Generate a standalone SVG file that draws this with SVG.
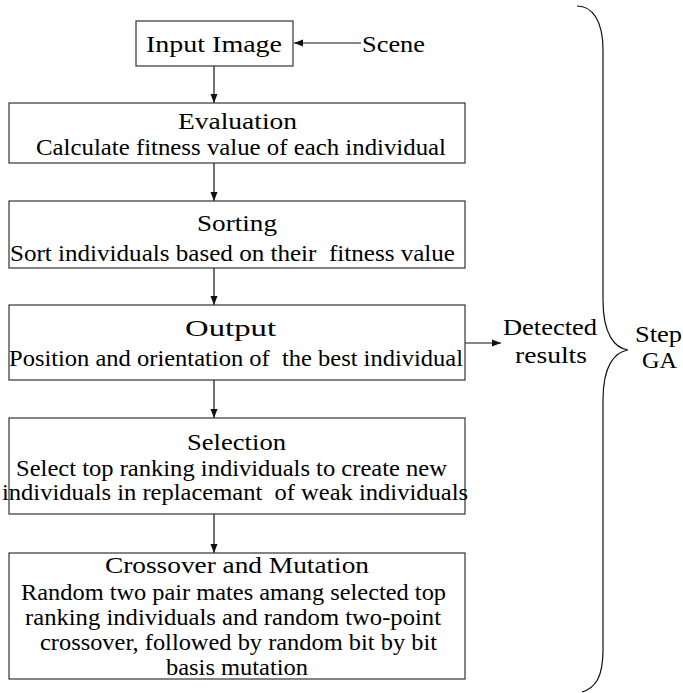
<svg xmlns="http://www.w3.org/2000/svg" width="683" height="693" viewBox="0 0 683 693">
<style>
.box{fill:#fff;stroke:#333;stroke-width:1.2}
.t{font-family:"Liberation Serif","DejaVu Serif",serif;font-size:23.5px;fill:#000;white-space:pre}
.c{stroke:#111;stroke-width:1.2;fill:none}
</style>
<defs>
<marker id="ah" markerWidth="10" markerHeight="8" refX="9" refY="4" orient="auto" markerUnits="userSpaceOnUse">
<path d="M0,0.5 L9,4 L0,7.5 Z" fill="#111"/>
</marker>
</defs>
<g id="connectors">
<line class="c" x1="361" y1="43" x2="294" y2="43" marker-end="url(#ah)"/>
<line class="c" x1="214" y1="66" x2="214" y2="103" marker-end="url(#ah)"/>
<line class="c" x1="214" y1="163" x2="214" y2="201" marker-end="url(#ah)"/>
<line class="c" x1="214" y1="268" x2="214" y2="305" marker-end="url(#ah)"/>
<line class="c" x1="214" y1="380" x2="214" y2="418" marker-end="url(#ah)"/>
<line class="c" x1="214" y1="514" x2="214" y2="553" marker-end="url(#ah)"/>
<line class="c" x1="465" y1="343" x2="501" y2="343" marker-end="url(#ah)"/>
<path id="brace" class="c" d="M577,6 C592,6 603,20 603,50 L603,300 C603,335 615,348 628,350 C615,352 603,365 603,400 L603,650 C603,678 595,688 582,692"/>
</g>
<g id="input-image">
<rect class="box" x="136" y="21" width="157" height="45"/>
<text class="t" x="146" y="52" textLength="136" lengthAdjust="spacingAndGlyphs">Input Image</text>
</g>
<g id="scene">
<text class="t" x="362" y="52" textLength="63" lengthAdjust="spacingAndGlyphs">Scene</text>
</g>
<g id="evaluation">
<rect class="box" x="9" y="103" width="456" height="60"/>
<text class="t" x="178" y="129" textLength="119" lengthAdjust="spacingAndGlyphs">Evaluation</text>
<text class="t" x="36" y="155" textLength="410" lengthAdjust="spacingAndGlyphs">Calculate fitness value of each individual</text>
</g>
<g id="sorting">
<rect class="box" x="9" y="201" width="456" height="67"/>
<text class="t" x="197" y="231" textLength="80" lengthAdjust="spacingAndGlyphs">Sorting</text>
<text class="t" x="10" y="261" textLength="445" lengthAdjust="spacingAndGlyphs">Sort individuals based on their  fitness value</text>
</g>
<g id="output">
<rect class="box" x="9" y="305" width="456" height="75"/>
<text class="t" x="185" y="336" textLength="91" lengthAdjust="spacingAndGlyphs">Output</text>
<text class="t" x="9" y="366" textLength="454" lengthAdjust="spacingAndGlyphs">Position and orientation of  the best individual</text>
</g>
<g id="detected">
<text class="t" x="503" y="335" textLength="94" lengthAdjust="spacingAndGlyphs">Detected</text>
<text class="t" x="515" y="363" textLength="72" lengthAdjust="spacingAndGlyphs">results</text>
</g>
<g id="selection">
<rect class="box" x="9" y="418" width="456" height="96"/>
<text class="t" x="187" y="450" textLength="99" lengthAdjust="spacingAndGlyphs">Selection</text>
<text class="t" x="16" y="476" textLength="431" lengthAdjust="spacingAndGlyphs">Select top ranking individuals to create new</text>
<text class="t" x="2" y="500" textLength="466" lengthAdjust="spacingAndGlyphs">individuals in replacemant  of weak individuals</text>
</g>
<g id="crossover">
<rect class="box" x="9" y="553" width="456" height="126"/>
<text class="t" x="105" y="573" textLength="264" lengthAdjust="spacingAndGlyphs">Crossover and Mutation</text>
<text class="t" x="21" y="600" textLength="425" lengthAdjust="spacingAndGlyphs">Random two pair mates amang selected top</text>
<text class="t" x="25" y="625" textLength="416" lengthAdjust="spacingAndGlyphs">ranking individuals and random two-point</text>
<text class="t" x="40" y="650" textLength="397" lengthAdjust="spacingAndGlyphs">crossover, followed by random bit by bit</text>
<text class="t" x="166" y="675" textLength="142" lengthAdjust="spacingAndGlyphs">basis mutation</text>
</g>
<g id="step-ga">
<text class="t" x="635" y="342" textLength="47" lengthAdjust="spacingAndGlyphs">Step</text>
<text class="t" x="642" y="368" textLength="35" lengthAdjust="spacingAndGlyphs">GA</text>
</g>
</svg>
